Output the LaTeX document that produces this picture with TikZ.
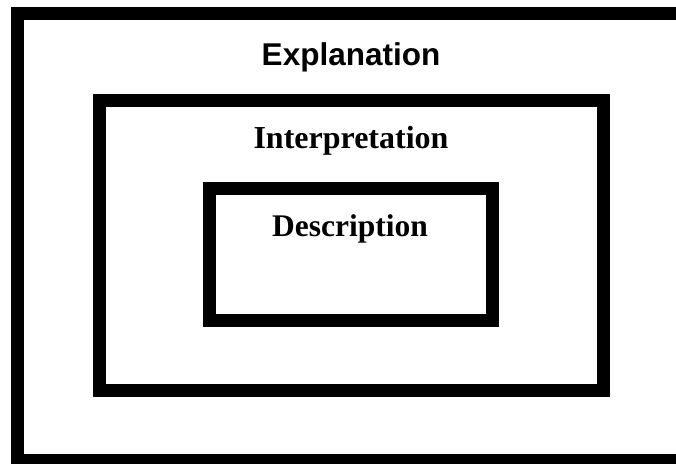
\documentclass[tikz,border=0pt]{standalone}
\usepackage{fontspec}
\setmainfont{Liberation Serif}
\newfontfamily\headfont{Liberation Sans}
\usepackage{tikz}
\tikzset{
	frame/.style={draw=black,line width=13pt,fill=none},
	outer label/.style={font=\headfont\bfseries\fontsize{31.5}{37}\selectfont,anchor=base,inner sep=0pt},
	inner label/.style={font=\bfseries\fontsize{32}{38}\selectfont,anchor=base,inner sep=0pt}
}

\begin{document}
\begin{tikzpicture}[x=1pt,y=-1pt]
	    \useasboundingbox (0,0) rectangle (676,463);
	    \clip (0,0) rectangle (676,463);
	
	    \draw[frame] (17.5,13.5) rectangle (690,460.5);
	    \node[outer label] (expl) at (351,65) {Explanation};
	
	    \draw[frame] (99.5,100.5) rectangle (603.5,390.5);
	    \node[inner label] (interp) at (351,148) {Interpretation};
	
	    \draw[frame] (209.5,188) rectangle (492.5,320.5);
	    \node[inner label,font=\bfseries\fontsize{31.5}{37}\selectfont] (descr) at (350,236) {Description};
	\end{tikzpicture}
\end{document}
